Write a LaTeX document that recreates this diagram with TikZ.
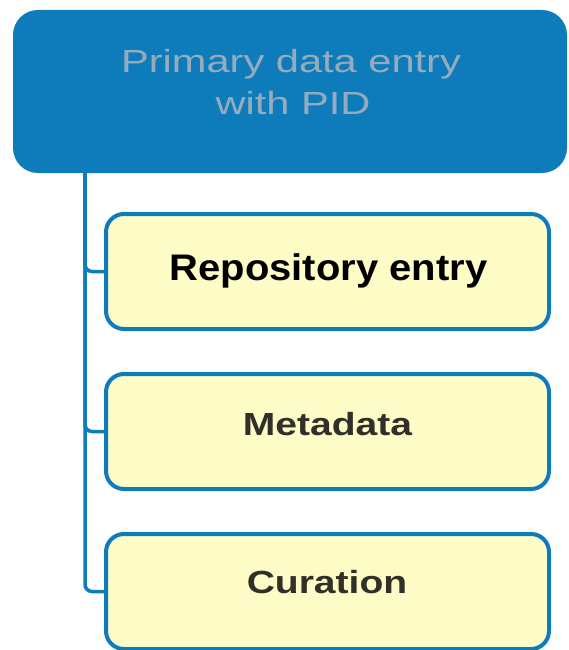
\documentclass[tikz,border=0pt]{standalone}
\usepackage{fontspec}
\setmainfont{Liberation Sans}
\newfontfamily\widefont[FakeStretch=1.3]{Liberation Sans}
\newfontfamily\boldwide[FakeStretch=1.22]{Liberation Sans Bold}
\newfontfamily\boldslight[FakeStretch=1.08]{Liberation Sans Bold}
\definecolor{mainblue}{RGB}{14,124,186}
\definecolor{paleyellow}{RGB}{253,252,199}
\definecolor{paletext}{RGB}{150,172,188}
\definecolor{darktext}{RGB}{48,48,40}
\tikzset{
  parentbox/.style={rectangle, rounded corners=25pt, fill=mainblue, draw=none,
    minimum width=554pt, minimum height=163pt, inner sep=0pt},
  childbox/.style={rectangle, rounded corners=18pt, fill=paleyellow, draw=mainblue,
    line width=4pt, minimum width=443pt, minimum height=115pt, inner sep=0pt},
  conn/.style={draw=mainblue, line width=3.5pt, rounded corners=7pt},
  lbl/.style={anchor=base, inner sep=0pt}
}
\begin{document}
\begin{tikzpicture}[x=1pt,y=-1pt]
\useasboundingbox (0,0) rectangle (568,650);
\node[parentbox] (p) at (290,91.5) {};
\node[lbl, text=paletext] (pt1) at (291,73) {\widefont\fontsize{32}{40}\selectfont Primary data entry};
\node[lbl, text=paletext] (pt2) at (293,115) {\widefont\fontsize{32}{40}\selectfont with PID};
\coordinate (trunk) at (85,173);
\node[childbox] (b1) at (327.5,271.5) {};
\node[childbox] (b2) at (327.5,431.5) {};
\node[childbox] (b3) at (327.5,591.5) {};
\draw[conn] (trunk) |- (b3.west);
\draw[conn] (trunk) |- (b2.west);
\draw[conn] (trunk) |- (b1.west);
\node[lbl, text=black] (t1) at (328.5,280) {\boldslight\fontsize{37}{44}\selectfont Repository entry};
\node[lbl, text=darktext] (t2) at (327.5,435) {\boldwide\fontsize{32}{40}\selectfont Metadata};
\node[lbl, text=darktext] (t3) at (327,593) {\boldwide\fontsize{32}{40}\selectfont Curation};
\end{tikzpicture}
\end{document}
